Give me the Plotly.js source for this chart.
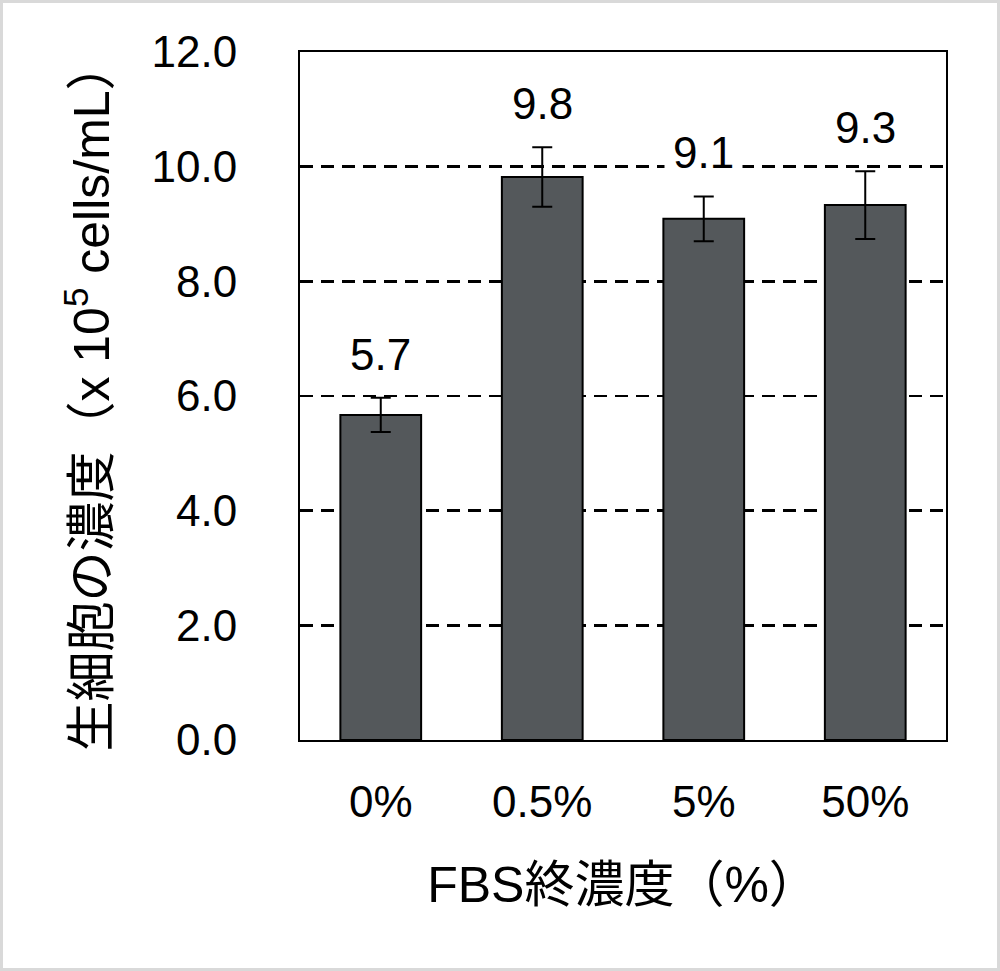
<!DOCTYPE html>
<html>
<head>
<meta charset="utf-8">
<script src="https://cdn.plot.ly/plotly-3.0.1.min.js"></script>
<style>
    body { margin: 0; background: #fff; }
    #wrap { position: relative; width: 1000px; height: 971px; }
    #chart { width: 1000px; height: 971px; }
    #frame { position: absolute; left: 0; top: 0; width: 1000px; height: 971px;
             box-sizing: border-box; border: 3px solid #d9d9d9; pointer-events: none; }
</style>
</head>
<body>
<div id="wrap">
    <div id="chart"></div>
    <div id="frame"></div>
</div>
<script>
const categories = ['0%', '0.5%', '5%', '50%'];
const means = [5.67, 9.82, 9.09, 9.33];
const errors = [0.3, 0.52, 0.39, 0.59];
const valueLabels = ['5.7', '9.8', '9.1', '9.3'];
const yTicks = [0, 2, 4, 6, 8, 10, 12];

window.onload = () => {
    const font = 'Liberation Sans, Arial, Noto Sans CJK JP, sans-serif';
    const titleFont = 'Liberation Sans, Noto Sans CJK JP, sans-serif';

    const bars = {
        type: 'bar',
        x: categories,
        y: means,
        width: 0.5,
        marker: {
            color: '#54585b',
            line: { color: '#000', width: 2 }
        },
        error_y: {
            type: 'data',
            array: errors,
            visible: true,
            color: '#000',
            thickness: 2,
            width: 10
        },
        hoverinfo: 'none'
    };

    // number above each error bar, white box hides the grid line behind it
    const annotations = categories.map((c, i) => ({
        x: c,
        y: means[i] + errors[i],
        text: valueLabels[i],
        showarrow: false,
        yanchor: 'bottom',
        yshift: 10,
        bgcolor: '#fff',
        borderpad: 8,
        font: { family: font, size: 44, color: '#000' }
    }));

    const layout = {
        width: 1000,
        height: 971,
        margin: { l: 300, r: 54, t: 52, b: 231 },
        paper_bgcolor: '#fff',
        plot_bgcolor: '#fff',
        showlegend: false,
        font: { family: font, color: '#000' },
        xaxis: {
            type: 'category',
            showline: true,
            linecolor: '#000',
            linewidth: 2,
            mirror: true,
            ticks: '',
            ticklabelstandoff: 22,
            tickfont: { size: 44 },
            title: {
                text: 'FBS終濃度（%）',
                font: { family: titleFont, size: 50 },
                standoff: 42
            }
        },
        yaxis: {
            range: [0, 12],
            tickvals: yTicks,
            tickformat: '.1f',
            showline: true,
            linecolor: '#000',
            linewidth: 2,
            mirror: true,
            ticks: '',
            ticklabelstandoff: 52,
            tickfont: { size: 44 },
            showgrid: true,
            gridcolor: '#000',
            gridwidth: 2.5,
            griddash: '13px,8px',
            zeroline: false,
            title: {
                text: '生細胞の濃度（x 10<sup>5</sup> cells/mL）',
                font: { family: titleFont, size: 50 },
                standoff: 26
            }
        },
        annotations: annotations
    };

    Plotly.newPlot('chart', [bars], layout, { staticPlot: true });
};
</script>
</body>
</html>
